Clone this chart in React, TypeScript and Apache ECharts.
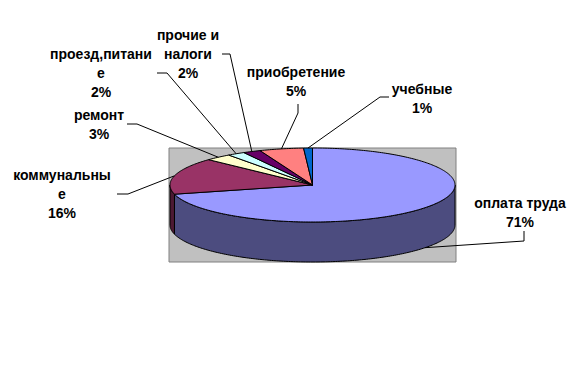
import React, { useEffect, useRef } from 'react';
import * as echarts from 'echarts';

// ---- data ----
const categories = ['оплата труда', 'коммунальные', 'ремонт', 'проезд,питание', 'прочие и налоги', 'приобретение', 'учебные'];
const labelTexts = ['оплата труда', 'коммунальны\nе', 'ремонт', 'проезд,питани\nе', 'прочие и\nналоги', 'приобретение', 'учебные'];
const values = [71, 16, 3, 2, 2, 5, 1];

// ---- styles ----
const topColors = ['#9999FF', '#993366', '#FFFFCC', '#CCFFFF', '#660066', '#FF8080', '#0066CC'];
const sideColors = ['#4C4C7F', '#4C1933', '#7F7F66', '#667F7F', '#330033', '#7F4040', '#003366'];

// ---- layout ----
const PIE = { cx: 312.5, cy: 185, rx: 142.5, ry: 37, depth: 40 };
const PLOT = { x: 169, y: 148, w: 287, h: 114 };
const LH = 19;
const labelPos = [[520, 203], [62, 175], [99, 115], [101, 54], [188, 35], [296, 72], [422, 89]];
const leaderStart = [
  [[524, 231], [524, 241]],
  [[117, 194], [128, 194]],
  [[127, 124], [137, 124]],
  [[157, 73], [167, 73]],
  [[222, 54], [230, 54]],
  [[298, 104], [298, 113]],
  [[389, 97], [380, 97]],
];

const total = values.reduce((a, b) => a + b, 0);

function pt(theta: number, dy = 0): number[] {
  const r = (theta * Math.PI) / 180;
  return [PIE.cx + PIE.rx * Math.sin(r), PIE.cy - PIE.ry * Math.cos(r) + dy];
}
function arc(a0: number, a1: number, dy: number): number[][] {
  const n = Math.max(2, Math.ceil(Math.abs(a1 - a0)));
  const out: number[][] = [];
  for (let k = 0; k <= n; k++) out.push(pt(a0 + ((a1 - a0) * k) / n, dy));
  return out;
}

export default function App() {
  const ref = useRef<HTMLDivElement>(null);
  useEffect(() => {
    document.body.style.margin = '0';
    const chart = echarts.init(ref.current!, null, { renderer: 'svg' });
    chart.setOption({
      animation: false,
      backgroundColor: '#FFFFFF',
      graphic: [
        {
          type: 'rect',
          z: 0,
          shape: { x: PLOT.x, y: PLOT.y, width: PLOT.w, height: PLOT.h },
          style: { fill: '#C0C0C0', stroke: '#808080', lineWidth: 1 },
        },
      ],
      series: [
        {
          type: 'custom',
          coordinateSystem: 'none',
          z: 2,
          data: values.map((v, i) => ({ name: categories[i], value: [i, v] })),
          renderItem: (params: any, api: any) => {
            const i = params.dataIndex;
            const v = api.value(1);
            let before = 0;
            for (let k = 0; k < i; k++) before += values[k];
            const a0 = (before / total) * 360;
            const a1 = ((before + v) / total) * 360;
            const children: any[] = [];
            const w0 = Math.max(a0, 90);
            const w1 = Math.min(a1, 270);
            if (w1 > w0) {
              const top = arc(w0, w1, 0);
              const bot = arc(w1, w0, PIE.depth);
              children.push({
                type: 'polygon',
                shape: { points: [...top, ...bot] },
                style: { fill: sideColors[i], stroke: '#000', lineWidth: 1 },
              });
            }
            children.push({
              type: 'polygon',
              shape: { points: [[PIE.cx, PIE.cy], ...arc(a0, a1, 0)] },
              style: { fill: topColors[i], stroke: '#000', lineWidth: 1 },
            });
            const mid = (a0 + a1) / 2;
            const front = mid > 90 && mid < 270;
            const anchor = pt(mid, front ? PIE.depth : 0);
            children.push({
              type: 'polyline',
              shape: { points: [...leaderStart[i], anchor] },
              style: { stroke: '#000', lineWidth: 1, fill: null },
            });
            const pct = Math.round((v / total) * 100);
            children.push({
              type: 'text',
              style: {
                text: labelTexts[i] + '\n' + pct + '%',
                x: labelPos[i][0],
                y: labelPos[i][1] - LH / 2,
                align: 'center',
                verticalAlign: 'top',
                font: 'bold 14px "Liberation Sans", Arial, sans-serif',
                lineHeight: LH,
                fill: '#000',
              },
            });
            return { type: 'group', children };
          },
        },
      ],
    });
    return () => chart.dispose();
  }, []);
  return <div ref={ref} style={{ width: 588, height: 392 }} />;
}
